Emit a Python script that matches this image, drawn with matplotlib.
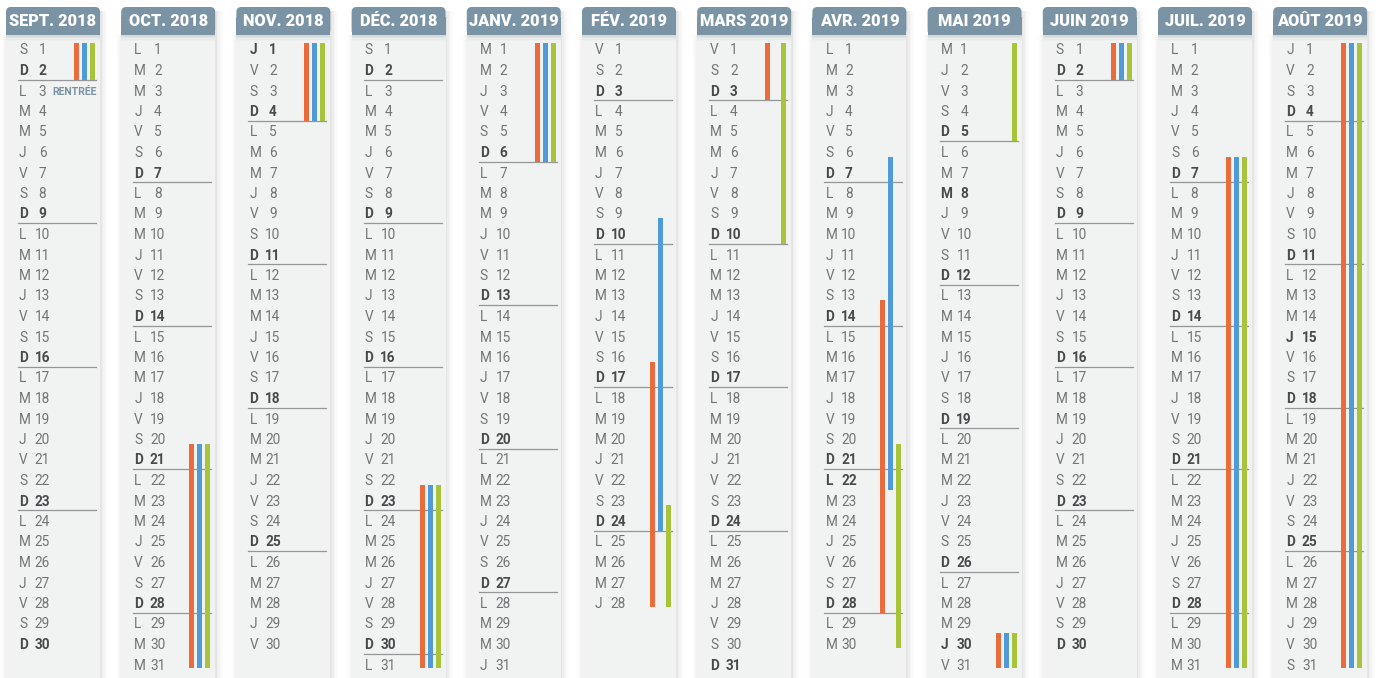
import datetime as dt
import matplotlib
matplotlib.use("Agg")
import matplotlib.pyplot as plt
from matplotlib.patches import Rectangle, FancyBboxPatch

# months shown, in order
month_titles = ["SEPT. 2018", "OCT. 2018", "NOV. 2018", "DÉC. 2018", "JANV. 2019", "FÉV. 2019",
                "MARS 2019", "AVR. 2019", "MAI 2019", "JUIN 2019", "JUIL. 2019", "AOÛT 2019"]
month_years = [2018, 2018, 2018, 2018, 2019, 2019, 2019, 2019, 2019, 2019, 2019, 2019]
month_nums = [9, 10, 11, 12, 1, 2, 3, 4, 5, 6, 7, 8]
day_letters = ["L", "M", "M", "J", "V", "S", "D"]

# public holidays shown in bold (besides sundays)
bold_days = ["2018-11-01", "2019-04-22", "2019-05-08", "2019-05-30", "2019-08-15"]

# holidays per zone (start, end)
zone_names = ["A", "B", "C"]
zone_colors = ["#ea6b3b", "#4e9bd7", "#a8c43a"]
holidays_A = [("2018-07-07", "2018-09-02"), ("2018-10-20", "2018-11-04"), ("2018-12-22", "2019-01-06"),
              ("2019-02-16", "2019-03-03"), ("2019-04-13", "2019-04-28"), ("2019-05-30", "2019-06-02"),
              ("2019-07-06", "2019-09-01")]
holidays_B = [("2018-07-07", "2018-09-02"), ("2018-10-20", "2018-11-04"), ("2018-12-22", "2019-01-06"),
              ("2019-02-09", "2019-02-24"), ("2019-04-06", "2019-04-22"), ("2019-05-30", "2019-06-02"),
              ("2019-07-06", "2019-09-01")]
holidays_C = [("2018-07-07", "2018-09-02"), ("2018-10-20", "2018-11-04"), ("2018-12-22", "2019-01-06"),
              ("2019-02-23", "2019-03-10"), ("2019-04-20", "2019-05-05"), ("2019-05-30", "2019-06-02"),
              ("2019-07-06", "2019-09-01")]
holidays = [holidays_A, holidays_B, holidays_C]

rentree_label = "RENTRÉE"
rentree_day = "2018-09-03"

"""layout in pixels"""
W, H = 1381, 678
COL_X0 = 6
COL_STEP = 115.2
COL_W = 94
HEAD_Y0, HEAD_Y1 = 7, 35
ROW_Y0 = 49
ROW_H = 20.5
TXT_DY = 1.5
BAR_OFF = [70.5, 78.5, 86.5]
BAR_W = 5

HEAD_COL = "#7a93a5"
BODY_COL = "#f1f2f2"
TXT_COL = "#737476"
BOLD_COL = "#4a4a4c"

plt.rcParams['font.family'] = ['Roboto', 'DejaVu Sans']

fig = plt.figure(figsize=(W / 100, H / 100), dpi=100)
ax = fig.add_axes([0, 0, 1, 1])
ax.set_xlim(0, W)
ax.set_ylim(H, 0)
ax.axis("off")


def row_y(d):
    return ROW_Y0 + (d - 1) * ROW_H


def parse(s):
    return dt.date.fromisoformat(s)


bold_set = set(parse(s) for s in bold_days)

for i, title in enumerate(month_titles):
    x0 = COL_X0 + i * COL_STEP
    y, m = month_years[i], month_nums[i]
    first = dt.date(y, m, 1)
    nxt = dt.date(y + (m == 12), m % 12 + 1, 1)
    ndays = (nxt - first).days

    # shadows
    for k, a in enumerate([0.10, 0.07, 0.045, 0.025, 0.012]):
        ax.add_patch(Rectangle((x0 + COL_W + k * 1.6, HEAD_Y0 + 4), 1.6, H, color="#000000", alpha=a, lw=0, zorder=1))
        ax.add_patch(Rectangle((x0 - (k + 1) * 1.0, HEAD_Y1), 1.0, H, color="#000000", alpha=a * 0.5, lw=0, zorder=1))
    ax.add_patch(Rectangle((x0, HEAD_Y1), COL_W, H, color=BODY_COL, lw=0, zorder=2))
    for k, a in enumerate([0.10, 0.06, 0.03, 0.012]):
        ax.add_patch(Rectangle((x0, HEAD_Y1 + k * 1.5), COL_W, 1.5, color="#000000", alpha=a, lw=0, zorder=3))

    # header
    ax.add_patch(FancyBboxPatch((x0, HEAD_Y0), COL_W, HEAD_Y1 - HEAD_Y0, boxstyle="round,pad=0,rounding_size=5",
                                color=HEAD_COL, lw=0, zorder=4))
    ax.add_patch(Rectangle((x0, HEAD_Y0 + 10), COL_W, HEAD_Y1 - HEAD_Y0 - 10, color=HEAD_COL, lw=0, zorder=4))
    ax.text(x0 + COL_W / 2, (HEAD_Y0 + HEAD_Y1) / 2 + 0.5, title, color="white", fontsize=11.8, fontweight="black",
            ha="center", va="center", zorder=5)

    # days
    for d in range(1, ndays + 1):
        date = dt.date(y, m, d)
        wd = date.weekday()
        is_bold = wd == 6 or date in bold_set
        col = BOLD_COL if is_bold else TXT_COL
        fw = "bold" if is_bold else "normal"
        yy = row_y(d)
        ax.text(x0 + 13, yy + TXT_DY, day_letters[wd], color=col, fontsize=9.8, fontweight=fw,
                ha="left", va="center", zorder=5)
        ax.text(x0 + 36.5, yy + TXT_DY, str(d), color=col, fontsize=9.8, fontweight=fw,
                ha="center", va="center", zorder=5)
        if wd == 6 and d < ndays:
            ax.plot([x0 + 12, x0 + 90], [yy + ROW_H / 2, yy + ROW_H / 2], color="#959698", lw=0.9, zorder=5)
        if date == parse(rentree_day):
            ax.text(x0 + 46, yy + TXT_DY, rentree_label, color=HEAD_COL, fontsize=7.6, fontweight="bold",
                    ha="left", va="center", zorder=5)

    # holiday bars
    last = dt.date(y, m, ndays)
    for z in range(3):
        for s, e in holidays[z]:
            s, e = parse(s), parse(e)
            if e < first or s > last:
                continue
            if s >= first:
                if s.weekday() == 5:
                    top = row_y(s.day) + 0.25 * ROW_H
                else:
                    top = row_y(s.day) - 0.5 * ROW_H
            else:
                top = row_y(1) - 0.3 * ROW_H
            bottom = row_y(min(e, last).day) + 0.5 * ROW_H
            if e > last:
                bottom = row_y(ndays) + 0.2 * ROW_H
            ax.add_patch(Rectangle((x0 + BAR_OFF[z] - BAR_W / 2, top), BAR_W, bottom - top,
                                   color=zone_colors[z], lw=0, zorder=6))

plt.savefig("out.png", dpi=100)
